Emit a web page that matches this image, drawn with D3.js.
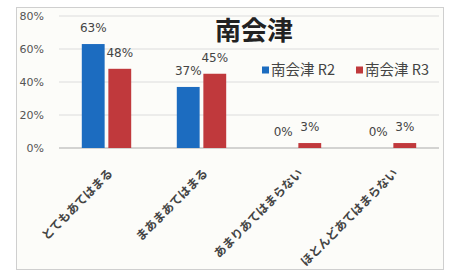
<!DOCTYPE html>
<html>
<head>
<meta charset="utf-8">
<script src="https://cdn.jsdelivr.net/npm/d3@7"></script>
<style>
  body { margin: 0; background: #fff; }
  svg { display: block; }
  text { font-family: "Noto Sans CJK JP", "Noto Sans", sans-serif; }
</style>
</head>
<body>
<div id="chart"></div>
<script>
// chart data
const categories = ["とてもあてはまる", "まあまあてはまる", "あまりあてはまらない", "ほとんどあてはまらない"];
const seriesNames = ["南会津 R2", "南会津 R3"];
const valuesR2 = [63, 37, 0, 0];
const valuesR3 = [48, 45, 3, 3];
const yTicks = [0, 20, 40, 60, 80];
const colors = ["#1c6cc0", "#c0393c"];

const W = 455, H = 274;
const svg = d3.select("#chart").append("svg")
  .attr("width", W)
  .attr("height", H);

// frame
svg.append("rect")
  .attr("x", 16.5).attr("y", 7.5)
  .attr("width", 427).attr("height", 262)
  .attr("fill", "#fcfcf9")
  .attr("stroke", "#cfcfcf");

// scales
const x0 = d3.scaleBand()
  .domain(categories)
  .range([59, 439])
  .paddingInner(0.48)
  .paddingOuter(0.24);

const x1 = d3.scaleBand()
  .domain(seriesNames)
  .range([0, x0.bandwidth()])
  .paddingInner(0.14);

const y = d3.scaleLinear()
  .domain([0, 80])
  .range([148, 16]);

// gridlines
svg.append("g")
  .selectAll("line")
  .data(yTicks.filter(d => d > 0))
  .enter().append("line")
    .attr("x1", 59).attr("x2", 439)
    .attr("y1", d => y(d)).attr("y2", d => y(d))
    .attr("stroke", "#dcdcdc")
    .attr("stroke-width", 1);

// y axis
const yAxis = svg.append("g")
  .attr("transform", "translate(47,0)")
  .call(d3.axisLeft(y).tickValues(yTicks).tickFormat(d => d + "%").tickSize(0));
yAxis.select(".domain").remove();
yAxis.selectAll("text")
  .attr("font-size", 11)
  .attr("fill", "#555")
  .style("font-family", "'DejaVu Sans', sans-serif");

// baseline
svg.append("line")
  .attr("x1", 59).attr("x2", 439)
  .attr("y1", y(0)).attr("y2", y(0))
  .attr("stroke", "#aaa");

// bars
const rows = categories.map((c, i) => ({ cat: c, vals: [valuesR2[i], valuesR3[i]] }));

const groups = svg.append("g")
  .selectAll("g")
  .data(rows)
  .enter().append("g")
    .attr("transform", d => `translate(${x0(d.cat)},0)`);

groups.selectAll("rect")
  .data(d => d.vals.map((v, j) => ({ key: seriesNames[j], v: v, j: j })))
  .enter().append("rect")
    .attr("x", d => x1(d.key))
    .attr("y", d => y(d.v))
    .attr("width", x1.bandwidth())
    .attr("height", d => y(0) - y(d.v))
    .attr("fill", d => colors[d.j]);

// value labels
groups.selectAll(".lbl")
  .data(d => d.vals.map((v, j) => ({ key: seriesNames[j], v: v })))
  .enter().append("text")
    .attr("class", "lbl")
    .attr("x", d => x1(d.key) + x1.bandwidth() / 2)
    .attr("y", d => y(d.v) - 12)
    .attr("text-anchor", "middle")
    .attr("font-size", 12)
    .attr("fill", "#444")
    .style("font-family", "'DejaVu Sans', sans-serif")
    .text(d => d.v + "%");

// x labels (rotated)
svg.append("g")
  .selectAll("text")
  .data(categories)
  .enter().append("text")
    .attr("transform", d => `translate(${x0(d) + x0.bandwidth() / 2 + 7},174) rotate(-45)`)
    .attr("text-anchor", "end")
    .attr("font-size", 12)
    .attr("font-weight", "bold")
    .attr("fill", "#444")
    .text(d => d);

// title
svg.append("text")
  .attr("x", 254)
  .attr("y", 40)
  .attr("text-anchor", "middle")
  .attr("font-size", 26)
  .attr("font-weight", "bold")
  .attr("fill", "#222")
  .text("南会津");

// legend
const legendX = [262, 356];
const legend = svg.append("g")
  .selectAll("g")
  .data(seriesNames)
  .enter().append("g")
    .attr("transform", (d, i) => `translate(${legendX[i]},70)`);

legend.append("rect")
  .attr("x", 0).attr("y", -3.5)
  .attr("width", 7).attr("height", 7)
  .attr("fill", (d, i) => colors[i]);

legend.append("text")
  .attr("x", 9)
  .attr("y", 0)
  .attr("dy", "0.35em")
  .attr("font-size", 14.5)
  .attr("fill", "#444")
  .text(d => d);
</script>
</body>
</html>
